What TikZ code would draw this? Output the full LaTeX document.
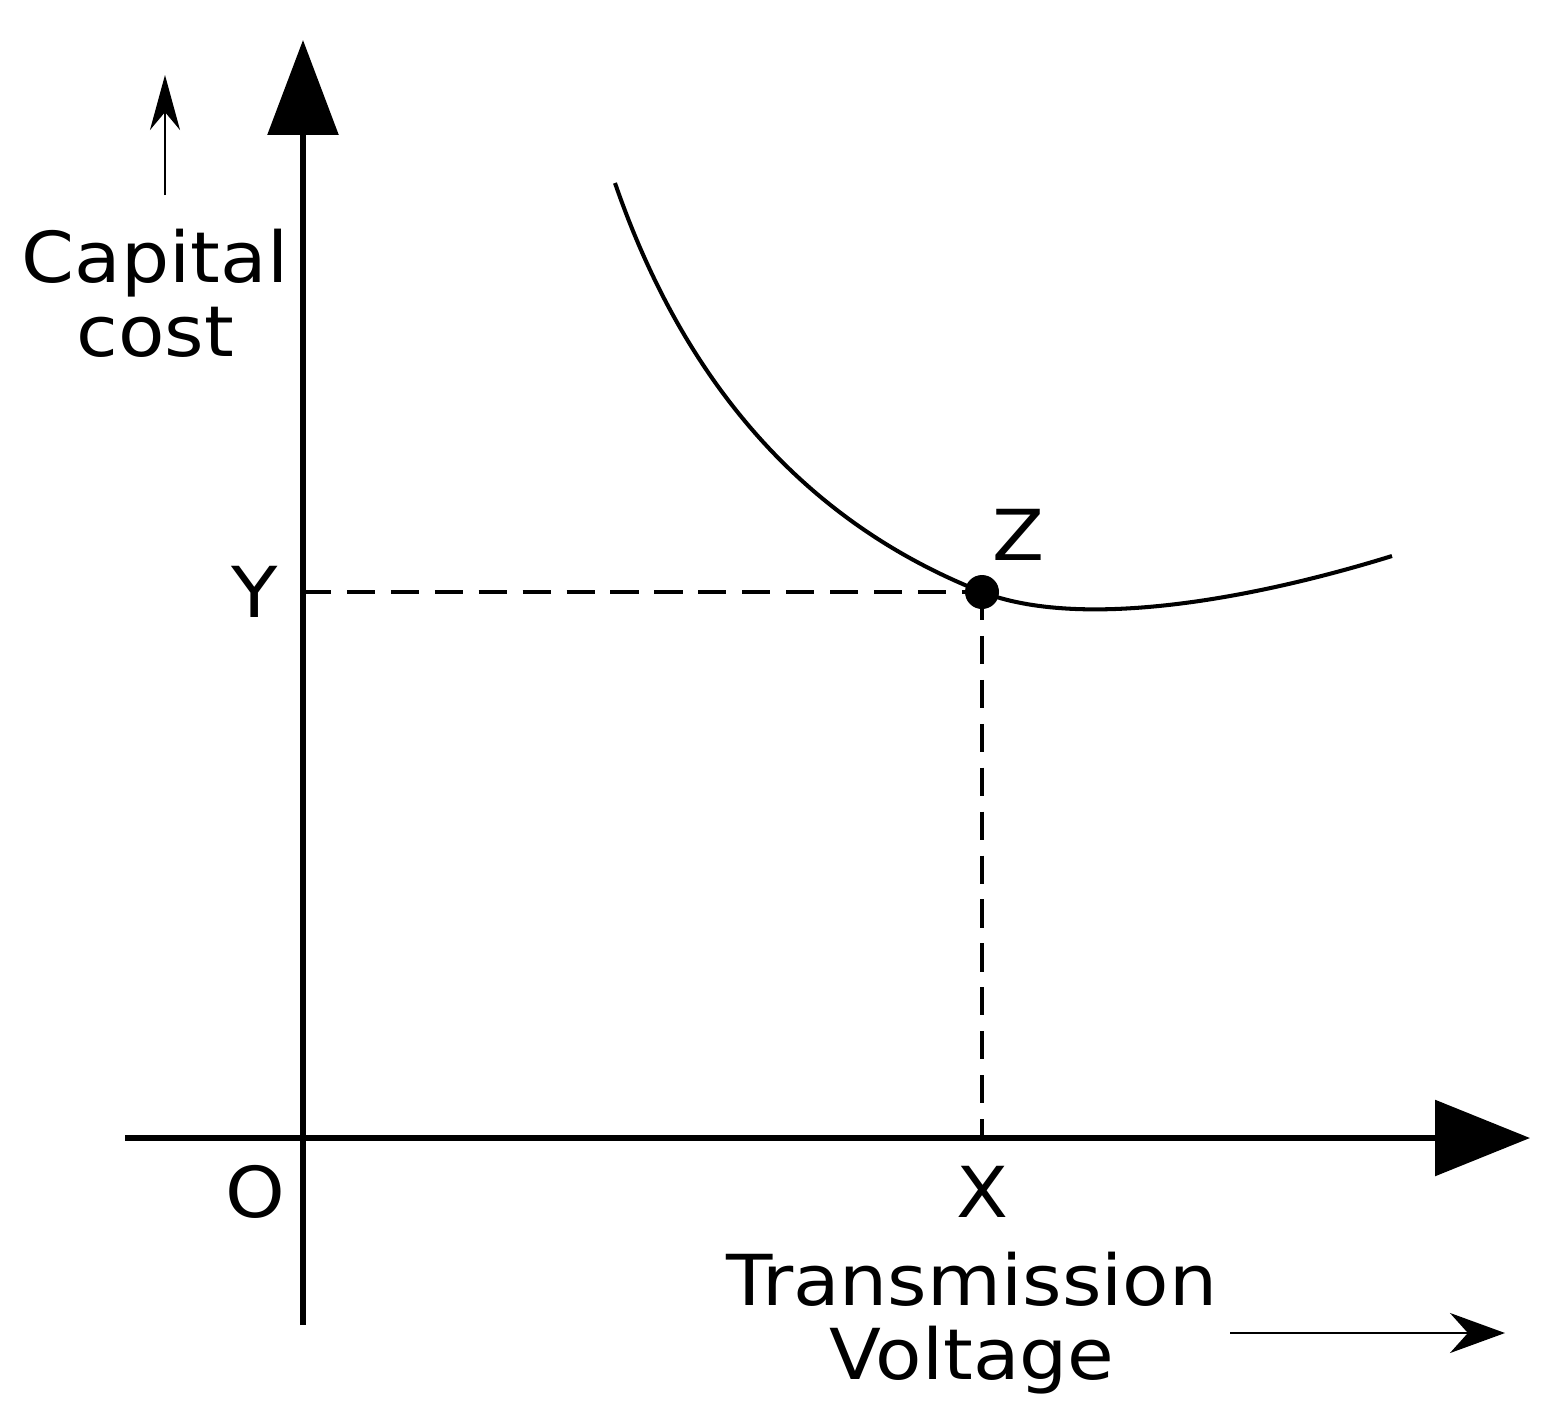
\documentclass[tikz,border=0pt]{standalone}
\usepackage{fontspec}
\setmainfont{DejaVu Sans}
\usetikzlibrary{arrows.meta}
\begin{document}
\begin{tikzpicture}[x=0.02cm,y=-0.02cm,
  lbl/.style={font=\fontsize{40}{44}\selectfont, inner sep=0pt, align=center, xscale=1.08},
  axis/.style={line width=3.4pt},
  dsh/.style={line width=2.2pt, dash pattern=on 16pt off 9pt}]
\useasboundingbox (0,0) rectangle (1556,1424);
\coordinate (vb) at (303,1325); \coordinate (vt) at (303,40);
\coordinate (hl) at (125,1138); \coordinate (hr) at (1530,1138);
\draw[axis,-{Triangle[length=1.9cm,width=1.4cm]}] (vb) -- (vt);
\draw[axis,-{Triangle[length=1.9cm,width=1.5cm]}] (hl) -- (hr);
\coordinate (sa) at (165,195); \coordinate (sb) at (165,75);
\draw[line width=1.6pt,-{Stealth[length=1.1cm,width=0.6cm]}] (sa) -- (sb);
\coordinate (ta) at (1230,1333); \coordinate (tb) at (1505,1333);
\draw[line width=1.6pt,-{Stealth[length=1.1cm,width=0.8cm]}] (ta) -- (tb);
\coordinate (c0) at (615,183); \coordinate (z) at (982,592); \coordinate (c2) at (1392,556);
\coordinate (ya) at (303,592); \coordinate (xa) at (982,1138);
\draw[dsh] (ya) -- (z); \draw[dsh] (z) -- (xa);
\draw[line width=2.3pt] (c0) .. controls (700,430) and (850,540) .. (z)
  .. controls (1080,630) and (1250,600) .. (c2);
\fill (z) circle[radius=17];
\node[lbl] (Y) at (255,592) {Y};
\node[lbl] (Z) at (1018,535) {Z};
\node[lbl] (O) at (255,1192) {O};
\node[lbl] (X) at (982,1192) {X};
\node[lbl] (cc) at (155,293) {Capital\\[-2pt]cost};
\node[lbl] (tv) at (972,1323) {Transmission\\[-2pt]Voltage};
\end{tikzpicture}
\end{document}
